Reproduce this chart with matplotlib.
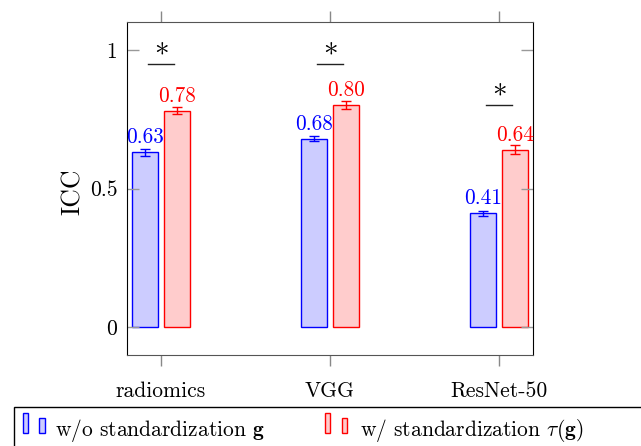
import numpy as np
import matplotlib
matplotlib.use('Agg')
import matplotlib.pyplot as plt
from matplotlib.patches import Rectangle

plt.rcParams['font.family'] = 'cmr10'
plt.rcParams['mathtext.fontset'] = 'cm'
plt.rcParams['axes.formatter.use_mathtext'] = True

methods = ['radiomics', 'VGG', 'ResNet-50']
icc_wo = [0.63, 0.68, 0.41]
icc_w = [0.78, 0.80, 0.64]
err_wo = [0.012, 0.008, 0.008]
err_w = [0.012, 0.014, 0.016]
sig_y = [0.95, 0.95, 0.80]

label_wo = r'w/o standardization $\mathbf{g}$'
label_w = r'w/ standardization $\tau(\mathbf{g})$'

W, H = 641, 446
fig = plt.figure(figsize=(W / 100, H / 100), dpi=100)
ax = fig.add_axes([127 / W, (H - 355) / H, 406 / W, 333 / H])

x = np.arange(len(methods))
bw = 0.156
off = 0.094
blue, red = '#0000ff', '#ff0000'
blue_f, red_f = '#ccccff', '#ffcccc'

ax.bar(x - off, icc_wo, bw, color=blue_f, edgecolor=blue, linewidth=1)
ax.bar(x + off, icc_w, bw, color=red_f, edgecolor=red, linewidth=1)
ax.errorbar(x - off, icc_wo, yerr=err_wo, fmt='none', ecolor=blue, elinewidth=1, capsize=3.5, capthick=1)
ax.errorbar(x + off, icc_w, yerr=err_w, fmt='none', ecolor=red, elinewidth=1, capsize=3.5, capthick=1)

for xi, v in zip(x - off, icc_wo):
    ax.annotate(f'{v:.2f}', (xi, v), xytext=(0, 6.5), textcoords='offset points',
                ha='center', va='baseline', color=blue, fontsize=15.3)
for xi, v in zip(x + off, icc_w):
    ax.annotate(f'{v:.2f}', (xi, v), xytext=(0, 6.5), textcoords='offset points',
                ha='center', va='baseline', color=red, fontsize=15.3)

# significance marks
for xi, s in zip(x, sig_y):
    ax.plot([xi - 0.077, xi + 0.077], [s, s], color='#222222', linewidth=1)
    ax.annotate(r'$*$', (xi, s), xytext=(0, 12), textcoords='offset points',
                ha='center', va='center', fontsize=21)

ax.set_xlim(-0.2, 2.2)
ax.set_ylim(-0.1, 1.1)
ax.set_xticks(x)
ax.set_xticklabels(methods, fontsize=15.5)
ax.set_yticks([0, 0.5, 1])
ax.set_yticklabels(['0', '0.5', '1'], fontsize=15.5)
ax.tick_params(axis='x', direction='out', top=True, bottom=True, length=8, width=1,
               color='#888888', pad=11)
ax.tick_params(axis='y', direction='in', left=True, right=True, length=8.6, width=1,
               color='#999999', pad=7)
ax.set_ylabel('ICC', fontsize=18.5)
ax.yaxis.set_label_coords(-0.104, 0.49)
for side in ['left', 'right']:
    ax.spines[side].set_color('black')
for side in ['top', 'bottom']:
    ax.spines[side].set_color('#555555')

# legend drawn by hand (frame runs off the figure edge)
def fx(px):
    return px / W

def fy(py):
    return (H - py) / H

fig.add_artist(Rectangle((fx(14), -0.1), 1.2, fy(406.7) + 0.1, transform=fig.transFigure,
                         fill=False, edgecolor='black', linewidth=1))
for x0, fc, ec in [(22.5, blue_f, blue), (325, red_f, red)]:
    fig.add_artist(Rectangle((fx(x0), fy(433.3)), fx(5.5), fy(413.3) - fy(433.3),
                             transform=fig.transFigure, facecolor=fc, edgecolor=ec, linewidth=1))
    fig.add_artist(Rectangle((fx(x0 + 16.5), fy(433.3)), fx(5.5), fy(418.3) - fy(433.3),
                             transform=fig.transFigure, facecolor=fc, edgecolor=ec, linewidth=1))
fig.text(fx(55), fy(436), label_wo, fontsize=15.5, va='baseline', ha='left')
fig.text(fx(360), fy(436), label_w, fontsize=15.5, va='baseline', ha='left')

fig.savefig('out.png', dpi=100)
